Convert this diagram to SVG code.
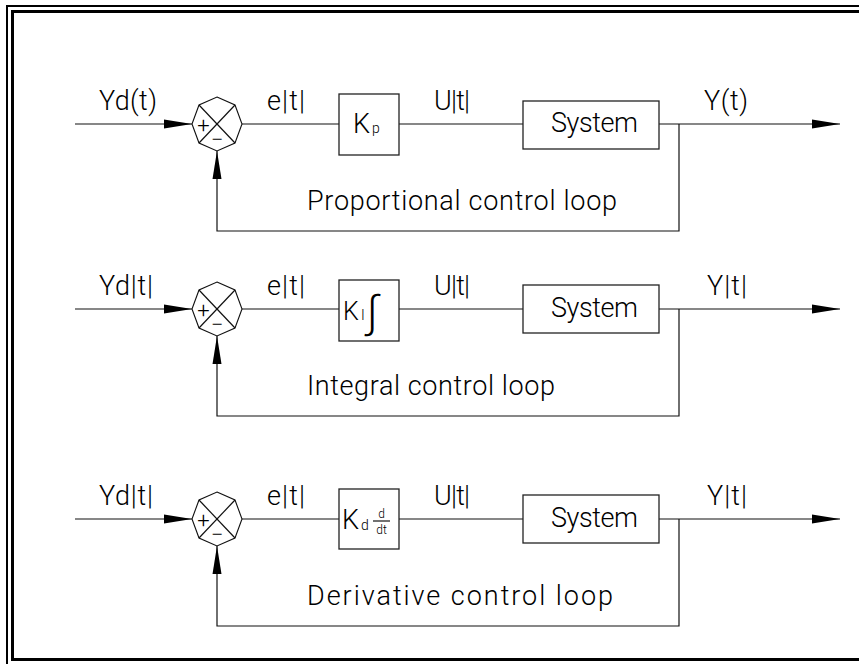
<svg xmlns="http://www.w3.org/2000/svg" width="859" height="664" viewBox="0 0 859 664">
<style>
.t{font-family:Roboto,"DejaVu Sans","Liberation Sans",sans-serif;font-weight:300;font-size:27px;fill:#000}
.s{font-size:14px}
.f{font-size:12px}
.pm{font-size:22px}
.ln{fill:none;stroke:#111;stroke-width:1.2}
.bx{fill:#fff;stroke:#222;stroke-width:1.3}
.oc{fill:#fff;stroke:#111;stroke-width:1.1}
</style>
<defs>
<marker id="ah" viewBox="0 0 28 10" refX="28" refY="5" markerWidth="28" markerHeight="10" markerUnits="userSpaceOnUse" orient="auto">
<path d="M0,0.5 L28,5 L0,9.5 z" fill="#000"/>
</marker>
<g id="sum">
<polygon class="oc" points="0,-27 18,-19 25,0 18,19 0,27 -18,19 -25,0 -18,-19"/>
<line class="ln" x1="-18" y1="-19" x2="18" y2="19"/>
<line class="ln" x1="18" y1="-19" x2="-18" y2="19"/>
</g>
</defs>
<rect width="859" height="664" fill="#fff"/>
<g id="frame">
<rect x="7" y="6" width="870" height="670" fill="none" stroke="#000" stroke-width="2"/>
<rect x="12.5" y="11.5" width="870" height="648" fill="none" stroke="#000" stroke-width="3"/>
</g>
<g id="connectors">
<line class="ln" x1="75" y1="124" x2="192" y2="124" marker-end="url(#ah)"/>
<line class="ln" x1="242" y1="124" x2="339" y2="124"/>
<line class="ln" x1="399" y1="124" x2="523" y2="124"/>
<line class="ln" x1="659" y1="124" x2="840" y2="124" marker-end="url(#ah)"/>
<polyline class="ln" points="679,124 679,231 217,231 217,151" marker-end="url(#ah)"/>
<line class="ln" x1="75" y1="309" x2="192" y2="309" marker-end="url(#ah)"/>
<line class="ln" x1="242" y1="309" x2="339" y2="309"/>
<line class="ln" x1="399" y1="309" x2="523" y2="309"/>
<line class="ln" x1="659" y1="309" x2="840" y2="309" marker-end="url(#ah)"/>
<polyline class="ln" points="679,309 679,416 217,416 217,336" marker-end="url(#ah)"/>
<line class="ln" x1="75" y1="519" x2="192" y2="519" marker-end="url(#ah)"/>
<line class="ln" x1="242" y1="519" x2="339" y2="519"/>
<line class="ln" x1="399" y1="519" x2="523" y2="519"/>
<line class="ln" x1="659" y1="519" x2="840" y2="519" marker-end="url(#ah)"/>
<polyline class="ln" points="679,519 679,626 217,626 217,546" marker-end="url(#ah)"/>
</g>
<g id="sum1">
<use href="#sum" x="217" y="124"/>
<text class="t pm" x="203.5" y="133" text-anchor="middle">+</text>
<text class="t pm" x="217" y="147" text-anchor="middle">−</text>
</g>
<g id="kp">
<rect class="bx" x="339" y="94" width="60" height="61"/>
<text class="t" x="353" y="133">K</text>
<text class="t s" x="372" y="133">p</text>
</g>
<g id="system1">
<rect class="bx" x="523" y="101" width="136" height="48"/>
<text class="t" x="551" y="132" textLength="87" lengthAdjust="spacing">System</text>
</g>
<g id="sum2">
<use href="#sum" x="217" y="309"/>
<text class="t pm" x="203.5" y="318" text-anchor="middle">+</text>
<text class="t pm" x="217" y="332" text-anchor="middle">−</text>
</g>
<g id="ki">
<rect class="bx" x="339" y="280" width="60" height="61"/>
<text class="t" x="343" y="320" style="font-size:25px">K</text>
<text class="t s" x="361" y="320">I</text>
<text class="t" x="367" y="327" style="font-size:44px">∫</text>
</g>
<g id="system2">
<rect class="bx" x="523" y="285" width="136" height="48"/>
<text class="t" x="551" y="317" textLength="87" lengthAdjust="spacing">System</text>
</g>
<g id="sum3">
<use href="#sum" x="217" y="519"/>
<text class="t pm" x="203.5" y="528" text-anchor="middle">+</text>
<text class="t pm" x="217" y="542" text-anchor="middle">−</text>
</g>
<g id="kd">
<rect class="bx" x="339" y="489" width="60" height="60"/>
<text class="t" x="342" y="529">K</text>
<text class="t s" x="361" y="530">d</text>
<text class="t f" x="381.5" y="518" text-anchor="middle">d</text>
<line class="ln" x1="373" y1="521" x2="390" y2="521"/>
<text class="t f" x="381.5" y="534" text-anchor="middle">dt</text>
</g>
<g id="system3">
<rect class="bx" x="523" y="495" width="136" height="48"/>
<text class="t" x="551" y="527" textLength="87" lengthAdjust="spacing">System</text>
</g>
<g id="labels">
<text class="t" x="99" y="110" textLength="58" lengthAdjust="spacing">Yd(t)</text>
<text class="t" x="267" y="110" textLength="38" lengthAdjust="spacing">e|t|</text>
<text class="t" x="434" y="110" textLength="36" lengthAdjust="spacing">U|t|</text>
<text class="t" x="704" y="110" textLength="44" lengthAdjust="spacing">Y(t)</text>
<text class="t" x="307" y="210" textLength="310" lengthAdjust="spacing">Proportional control loop</text>
<text class="t" x="99" y="295" textLength="54" lengthAdjust="spacing">Yd|t|</text>
<text class="t" x="267" y="295" textLength="38" lengthAdjust="spacing">e|t|</text>
<text class="t" x="434" y="295" textLength="36" lengthAdjust="spacing">U|t|</text>
<text class="t" x="707" y="295" textLength="40" lengthAdjust="spacing">Y|t|</text>
<text class="t" x="307" y="395" textLength="248" lengthAdjust="spacing">Integral control loop</text>
<text class="t" x="99" y="505" textLength="54" lengthAdjust="spacing">Yd|t|</text>
<text class="t" x="267" y="505" textLength="38" lengthAdjust="spacing">e|t|</text>
<text class="t" x="434" y="505" textLength="36" lengthAdjust="spacing">U|t|</text>
<text class="t" x="707" y="505" textLength="40" lengthAdjust="spacing">Y|t|</text>
<text class="t" x="307" y="605" textLength="306" lengthAdjust="spacing">Derivative control loop</text>
</g>
</svg>
